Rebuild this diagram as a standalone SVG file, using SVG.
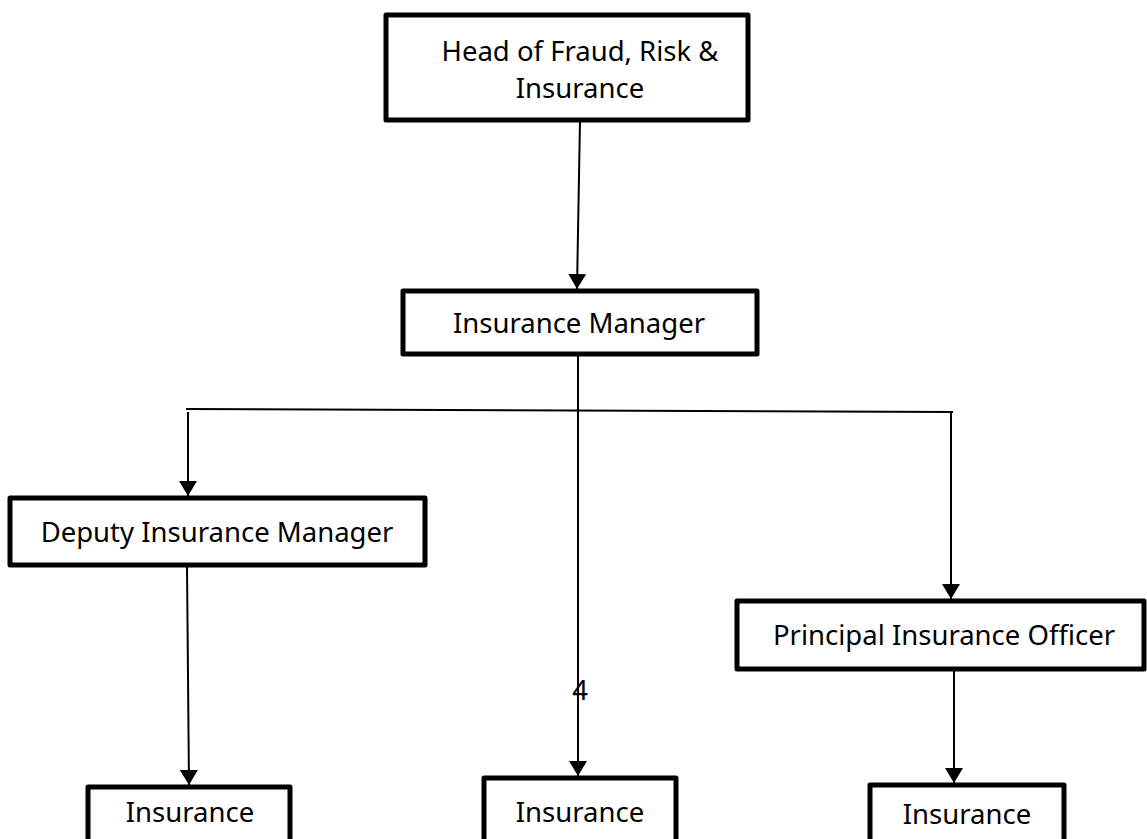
<svg xmlns="http://www.w3.org/2000/svg" width="1147" height="839" viewBox="0 0 1147 839">
<style>
.box{fill:#fff;stroke:#000;stroke-width:5;stroke-linejoin:round}
.t{font-family:"Noto Sans","Open Sans",sans-serif;font-size:27.5px;fill:#000;text-anchor:middle}
.c{stroke:#000;stroke-width:2;fill:none}
</style>
<defs>
<marker id="ah" markerUnits="userSpaceOnUse" markerWidth="16" markerHeight="18" refX="15" refY="9" orient="auto">
<path d="M0,0 L15,9 L0,18 Z" fill="#000"/>
</marker>
</defs>
<rect width="1147" height="839" fill="#fff"/>
<g id="connectors">
<line class="c" x1="580" y1="120" x2="577" y2="289" marker-end="url(#ah)"/>
<line class="c" x1="578" y1="356" x2="578" y2="776" marker-end="url(#ah)"/>
<line class="c" x1="186" y1="409" x2="953" y2="412"/>
<line class="c" x1="188" y1="412" x2="188" y2="496" marker-end="url(#ah)"/>
<line class="c" x1="951" y1="412" x2="951" y2="599" marker-end="url(#ah)"/>
<line class="c" x1="187" y1="566" x2="189" y2="785" marker-end="url(#ah)"/>
<line class="c" x1="954" y1="669" x2="954" y2="783" marker-end="url(#ah)"/>
</g>
<g id="head">
<rect class="box" x="386" y="15" width="362" height="105"/>
<text class="t" x="580" y="61">Head of Fraud, Risk &amp;</text>
<text class="t" x="580" y="98">Insurance</text>
</g>
<g id="manager">
<rect class="box" x="403" y="291" width="354" height="63"/>
<text class="t" x="579" y="333">Insurance Manager</text>
</g>
<g id="deputy">
<rect class="box" x="10" y="498" width="415" height="67"/>
<text class="t" x="217" y="542">Deputy Insurance Manager</text>
</g>
<g id="principal">
<rect class="box" x="737" y="601" width="407" height="68"/>
<text class="t" x="944" y="645">Principal Insurance Officer</text>
</g>
<g id="label4">
<text class="t" x="580" y="700">4</text>
</g>
<g id="ins-left">
<rect class="box" x="88" y="787" width="202" height="80"/>
<text class="t" x="190" y="822">Insurance</text>
</g>
<g id="ins-mid">
<rect class="box" x="484" y="778" width="192" height="80"/>
<text class="t" x="580" y="822">Insurance</text>
</g>
<g id="ins-right">
<rect class="box" x="870" y="785" width="194" height="80"/>
<text class="t" x="967" y="824">Insurance</text>
</g>
</svg>
